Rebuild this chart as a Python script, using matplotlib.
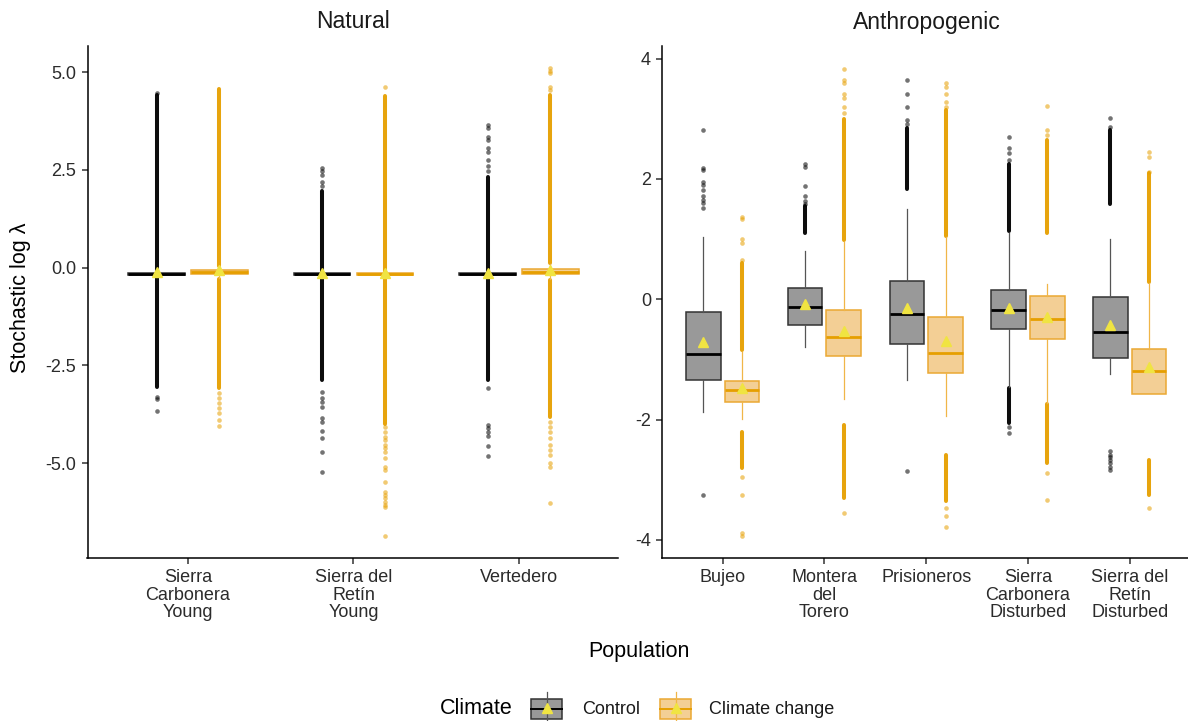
import matplotlib.pyplot as plt
from matplotlib.patches import Rectangle
from matplotlib.lines import Line2D

plt.rcParams['font.family'] = ['Liberation Sans', 'DejaVu Sans']

# Natural populations: (whislo, q1, median, q3, whishi), mean
nat_pops = ["Sierra\nCarbonera\nYoung", "Sierra del\nRetín\nYoung", "Vertedero"]
nat_ctrl_box = [(-0.22, -0.19, -0.17, -0.15, -0.12),
                (-0.22, -0.19, -0.17, -0.15, -0.12),
                (-0.22, -0.19, -0.17, -0.15, -0.12)]
nat_ctrl_mean = [-0.11, -0.14, -0.14]
nat_cc_box = [(-0.27, -0.17, -0.12, -0.06, 0.03),
              (-0.22, -0.19, -0.17, -0.15, -0.12),
              (-0.30, -0.17, -0.10, -0.04, 0.10)]
nat_cc_mean = [-0.06, -0.14, -0.07]

# outliers: dense runs (lo, hi) and single points
nat_ctrl_runs = [[(-0.12, 4.42), (-3.05, -0.22)],
                 [(-0.12, 1.95), (-2.88, -0.22)],
                 [(-0.12, 2.33), (-2.88, -0.22)]]
nat_ctrl_pts = [[4.46, -3.30, -3.37, -3.67],
                [2.54, 2.47, 2.37, 2.20, 2.10, -3.17, -3.34, -3.43, -3.56,
                 -3.86, -3.94, -4.17, -4.35, -4.71, -5.22],
                [3.65, 3.57, 3.35, 3.27, 3.05, 2.97, 2.76, 2.59, 2.46,
                 -3.09, -4.03, -4.11, -4.20, -4.31, -4.56, -4.82]]
nat_cc_runs = [[(0.05, 4.57), (-3.09, -0.29)],
               [(-0.10, 4.38), (-4.00, -0.24)],
               [(0.12, 4.42), (-3.81, -0.32)]]
nat_cc_pts = [[-3.22, -3.34, -3.47, -3.60, -3.73, -3.90, -4.05],
              [4.61, -4.07, -4.20, -4.33, -4.41, -4.54, -4.62, -4.71, -4.88,
               -5.09, -5.18, -5.48, -5.73, -5.82, -5.90, -5.99, -6.08, -6.12, -6.87],
              [5.10, 5.02, 4.97, 4.63, 4.55, -3.94, -4.07, -4.20, -4.37, -4.54,
               -4.67, -4.80, -5.01, -5.09, -6.03]]

# Anthropogenic populations
ant_pops = ["Bujeo", "Montera\ndel\nTorero", "Prisioneros",
            "Sierra\nCarbonera\nDisturbed", "Sierra del\nRetín\nDisturbed"]
ant_ctrl_box = [(-1.88, -1.34, -0.91, -0.205, 1.03),
                (-0.79, -0.43, -0.12, 0.18, 0.81),
                (-1.34, -0.74, -0.24, 0.31, 1.50),
                (-1.45, -0.50, -0.18, 0.155, 1.11),
                (-1.25, -0.97, -0.55, 0.044, 1.01)]
ant_ctrl_mean = [-0.71, -0.07, -0.15, -0.14, -0.42]
ant_cc_box = [(-1.99, -1.70, -1.51, -1.35, -0.87),
              (-1.66, -0.95, -0.63, -0.17, 0.96),
              (-1.94, -1.22, -0.90, -0.30, 1.04),
              (-1.72, -0.66, -0.32, 0.055, 0.25),
              (-1.58, -1.57, -1.20, -0.83, 0.27)]
ant_cc_mean = [-1.48, -0.52, -0.70, -0.29, -1.12]

ant_ctrl_runs = [[],
                 [(1.10, 1.55)],
                 [(1.84, 2.85)],
                 [(1.13, 2.25), (-2.05, -1.47)],
                 [(1.58, 2.82)]]
ant_ctrl_pts = [[2.82, 2.18, 2.15, 1.95, 1.90, 1.82, 1.71, 1.65, 1.60, 1.51, -3.26],
                [1.59, 1.63, 1.71, 1.88, 2.20, 2.25],
                [2.92, 2.98, 3.19, 3.42, 3.64, -2.85],
                [2.31, 2.43, 2.52, 2.70, -2.12, -2.23],
                [2.86, 3.01, -2.52, -2.58, -2.62, -2.67, -2.72, -2.78, -2.83]]
ant_cc_runs = [[(-0.84, 0.60), (-2.80, -2.20)],
               [(0.98, 3.00), (-3.31, -2.09)],
               [(1.06, 3.15), (-3.36, -2.59)],
               [(1.11, 2.65), (-2.72, -1.74)],
               [(0.29, 2.10), (-3.25, -2.67)]]
ant_cc_pts = [[0.65, 0.93, 1.01, 1.33, 1.37, -2.95, -3.26, -3.89, -3.94],
              [3.10, 3.20, 3.34, 3.42, 3.59, 3.64, 3.82, -3.55],
              [3.20, 3.28, 3.42, 3.53, 3.59, -3.47, -3.61, -3.78],
              [2.73, 2.81, 3.21, -2.89, -3.33],
              [2.12, 2.37, 2.45, -3.47]]

climates = ["Control", "Climate change"]

# colours
CTRL = dict(fill='#999999', edge='#333333', med='#000000', whisk='#555555', pt='#000000')
CC = dict(fill='#F3CF95', edge='#EBA833', med='#E69F00', whisk='#F0B648', pt='#E69F00')
MEAN_COL = '#F0E442'
TXT = '#2b2b2b'

OFFSET = 0.19
WIDTH = 0.34


def draw_group(ax, boxes, means, runs, pts, col, shift):
    xs = [i + shift for i in range(len(boxes))]
    # outliers first, box on top
    for x, rr, pp in zip(xs, runs, pts):
        for lo, hi in rr:
            lc = ax.vlines(x, lo, hi, colors=col['pt'], lw=2.9, alpha=0.95, zorder=1)
            lc.set_capstyle('round')
        ax.scatter([x] * len(pp), pp, s=11, color=col['pt'], alpha=0.55,
                   linewidths=0, zorder=1)
    stats = []
    for (lo, q1, med, q3, hi), m in zip(boxes, means):
        stats.append(dict(whislo=lo, q1=q1, med=med, q3=q3, whishi=hi, mean=m))
    ax.bxp(stats, positions=xs, widths=WIDTH, patch_artist=True,
           showcaps=False, showfliers=False, showmeans=True, manage_ticks=False,
           boxprops=dict(facecolor=col['fill'], edgecolor=col['edge'], linewidth=1.1),
           medianprops=dict(color=col['med'], linewidth=2.0, solid_capstyle='butt'),
           whiskerprops=dict(color=col['whisk'], linewidth=0.9),
           meanprops=dict(marker='^', markerfacecolor=MEAN_COL,
                          markeredgecolor=MEAN_COL, markersize=7.5),
           zorder=2)


def style_axis(ax, labels, ylim, yticks, ylabels, xlim):
    ax.set_xlim(*xlim)
    ax.set_ylim(*ylim)
    ax.set_xticks(range(len(labels)))
    ax.set_xticklabels(labels, linespacing=1.05)
    ax.set_yticks(yticks)
    ax.set_yticklabels(ylabels)
    for s in ['top', 'right']:
        ax.spines[s].set_visible(False)
    for s in ['left', 'bottom']:
        ax.spines[s].set_linewidth(1.1)
        ax.spines[s].set_color('black')
    ax.tick_params(axis='both', length=4, width=1.1, color='#333333',
                   labelsize=13, labelcolor=TXT, pad=4)


W, H = 1188, 721
fig = plt.figure(figsize=(W / 100, H / 100), dpi=100)
axL = fig.add_axes([87.5 / W, (H - 558) / H, (618 - 87.5) / W, (558 - 46) / H])
axR = fig.add_axes([662 / W, (H - 558) / H, (W - 662) / W, (558 - 46) / H])

draw_group(axL, nat_ctrl_box, nat_ctrl_mean, nat_ctrl_runs, nat_ctrl_pts, CTRL, -OFFSET)
draw_group(axL, nat_cc_box, nat_cc_mean, nat_cc_runs, nat_cc_pts, CC, OFFSET)
draw_group(axR, ant_ctrl_box, ant_ctrl_mean, ant_ctrl_runs, ant_ctrl_pts, CTRL, -OFFSET)
draw_group(axR, ant_cc_box, ant_cc_mean, ant_cc_runs, ant_cc_pts, CC, OFFSET)

style_axis(axL, nat_pops, (-7.43, 5.67), [-5, -2.5, 0, 2.5, 5],
           ["-5.0", "-2.5", "0.0", "2.5", "5.0"], (-0.607, 2.598))
style_axis(axR, ant_pops, (-4.30, 4.21), [-4, -2, 0, 2, 4],
           ["-4", "-2", "0", "2", "4"], (-0.595, 4.572))

# facet titles and axis titles
fig.text((87.5 + 618) / 2 / W, 1 - 22 / H, "Natural", fontsize=16.5,
         ha='center', va='center', color='#1a1a1a')
fig.text((662 + 1191) / 2 / W, 1 - 22 / H, "Anthropogenic", fontsize=16.5,
         ha='center', va='center', color='#1a1a1a')
fig.text(21 / W, 1 - 298 / H, "Stochastic log λ", fontsize=15.5, rotation=90,
         ha='center', va='center')
fig.text(639 / W, 1 - 651 / H, "Population", fontsize=15.5, ha='center', va='center')

# legend
lax = fig.add_axes([0, 0, 1, 1], zorder=-1)
lax.set_xlim(0, W)
lax.set_ylim(H, 0)
lax.axis('off')
ly = 709
lax.text(440, ly, "Climate", fontsize=15.5, ha='left', va='center')
for x0, col, name, tx in [(531, CTRL, climates[0], 582), (660, CC, climates[1], 709)]:
    xc = x0 + 15.5
    lax.add_line(Line2D([xc, xc], [ly - 17, ly + 17], color=col['whisk'], lw=0.9))
    lax.add_patch(Rectangle((x0, ly - 10), 31, 20, facecolor=col['fill'],
                            edgecolor=col['edge'], lw=1.1))
    lax.add_line(Line2D([x0, x0 + 31], [ly, ly], color=col['med'], lw=1.4))
    lax.plot([xc], [ly - 1], marker='^', color=MEAN_COL, markersize=7.5)
    lax.text(tx, ly, name, fontsize=13, ha='left', va='center', color='#1a1a1a')

fig.savefig("out.png", dpi=100)
